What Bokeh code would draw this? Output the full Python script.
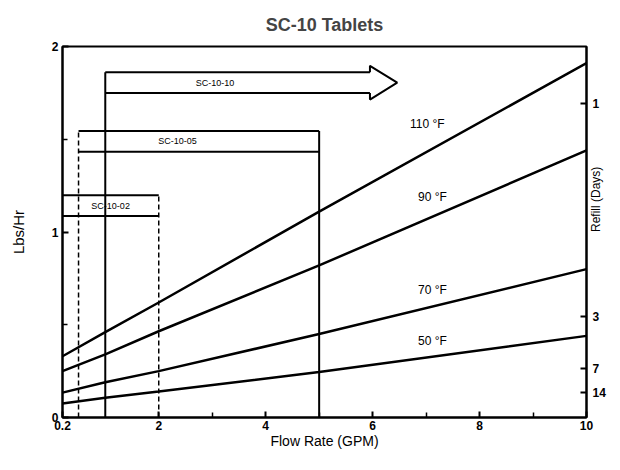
import math
from bokeh.plotting import figure
from bokeh.models import Range1d, LinearAxis, FixedTicker
from bokeh.embed import file_html
from bokeh.resources import INLINE
from bokeh.core.properties import value

# ---- data ----
flow = [0.2, 1, 2, 5, 10]
lbs_110 = [0.33, 0.46, 0.62, 1.11, 1.91]
lbs_90 = [0.25, 0.34, 0.465, 0.82, 1.44]
lbs_70 = [0.134, 0.19, 0.25, 0.45, 0.80]
lbs_50 = [0.075, 0.107, 0.14, 0.245, 0.44]
temp_labels = ["110 °F", "90 °F", "70 °F", "50 °F"]
temp_label_x = [6.7, 6.85, 6.85, 6.85]
temp_label_y = [1.58, 1.19, 0.69, 0.41]

models = ["SC-10-10", "SC-10-05", "SC-10-02"]
model_min = [1.0, 0.5, 0.2]
model_max = [5.95, 5.0, 2.0]
band_top = [1.861, 1.545, 1.198]
band_bottom = [1.749, 1.433, 1.086]
model_label_x = [3.05, 2.35, 1.1]
arrow_tip = 6.46
arrow_flare = 0.035

x_ticks = [0.2, 2, 4, 6, 8, 10]
x_minor = [3, 5, 7, 9]
y_ticks = [0, 1, 2]
y_minor = [0.5, 1.5]
refill_days = [1, 3, 7, 14]
refill_pos = [1.695, 0.543, 0.264, 0.134]

FONT = "Liberation Sans"

p = figure(width=612, height=454, x_range=Range1d(0.2, 10), y_range=Range1d(0, 2),
           output_backend="svg", toolbar_location=None,
           min_border_left=62, min_border_right=26, min_border_top=45, min_border_bottom=37)
p.grid.visible = False
p.outline_line_color = "black"
p.outline_line_width = 2
p.background_fill_color = "white"
p.border_fill_color = "white"

p.title.text = "SC-10 Tablets"
p.title.align = "center"
p.title.offset = 4
p.title.standoff = 24
p.title.text_font = FONT
p.title.text_font_size = "18px"
p.title.text_font_style = "bold"

xa = p.xaxis[0]
xa.ticker = FixedTicker(ticks=x_ticks, minor_ticks=x_minor)
xa.major_label_overrides = {0.2: "0.2"}
xa.axis_label = "Flow Rate (GPM)"
ya = p.yaxis[0]
ya.ticker = FixedTicker(ticks=y_ticks, minor_ticks=y_minor)
ya.axis_label = "Lbs/Hr"

p.extra_y_ranges = {"refill": Range1d(0, 2)}
ra = LinearAxis(y_range_name="refill", ticker=FixedTicker(ticks=refill_pos, minor_ticks=[]),
                major_label_overrides={pos: str(d) for pos, d in zip(refill_pos, refill_days)},
                axis_label="Refill (Days)")
p.add_layout(ra, "right")

for ax in (xa, ya, ra):
    ax.axis_line_color = "black"
    ax.axis_line_width = 2
    ax.major_tick_in = 6
    ax.major_tick_out = 0
    ax.minor_tick_in = 5
    ax.minor_tick_out = 0
    ax.major_tick_line_width = 2
    ax.minor_tick_line_width = 1.5
    ax.major_label_text_font = FONT
    ax.major_label_text_font_size = "12px"
    ax.major_label_text_font_style = "bold"
    ax.major_label_text_color = "black"
    ax.major_label_standoff = 4
    ax.axis_label_text_font = FONT
    ax.axis_label_text_font_size = "15px"
    ax.axis_label_text_font_style = "normal"
    ax.axis_label_text_color = "black"
    ax.axis_label_standoff = 6
xa.major_label_standoff = 3
xa.axis_label_standoff = 0
xa.axis_label_text_font_size = "14px"
ya.axis_label_standoff = 22
ra.major_label_standoff = 6
ra.axis_label_standoff = -13
ra.axis_label_text_font_size = "12px"
if "axis_label_orientation" in ra.properties():
    ra.axis_label_orientation = math.pi / 2

# temperature curves
for ys in (lbs_110, lbs_90, lbs_70, lbs_50):
    p.line(flow, ys, line_color="black", line_width=2.5)
p.text(temp_label_x, temp_label_y, text=temp_labels, text_font=value(FONT),
       text_font_size="12px", text_baseline="middle", text_align="left", text_color="black")

# model range bands
for i in range(len(models)):
    p.segment(x0=[model_min[i]] * 2, y0=[band_top[i], band_bottom[i]],
              x1=[model_max[i]] * 2, y1=[band_top[i], band_bottom[i]],
              line_color="black", line_width=2)
p.text(model_label_x, [(t + b) / 2 for t, b in zip(band_top, band_bottom)], text=models,
       text_font=value(FONT), text_font_size="9px", text_baseline="middle",
       text_align="center", text_color="black")

# arrow head for open-ended SC-10-10
mid0 = (band_top[0] + band_bottom[0]) / 2
p.line([model_max[0], model_max[0], arrow_tip, model_max[0], model_max[0]],
       [band_top[0], band_top[0] + arrow_flare, mid0, band_bottom[0] - arrow_flare, band_bottom[0]],
       line_color="black", line_width=2)

# vertical limits
p.segment(x0=[model_min[0]], y0=[0], x1=[model_min[0]], y1=[band_top[0]],
          line_color="black", line_width=2)
p.segment(x0=[model_max[1]], y0=[0], x1=[model_max[1]], y1=[band_top[1]],
          line_color="black", line_width=2)
p.segment(x0=[model_min[1], model_max[2]], y0=[0, 0], x1=[model_min[1], model_max[2]],
          y1=[band_top[1], band_top[2]], line_color="black", line_width=1.5, line_dash="5 3")

open("out.html", "w").write(file_html(p, INLINE))
